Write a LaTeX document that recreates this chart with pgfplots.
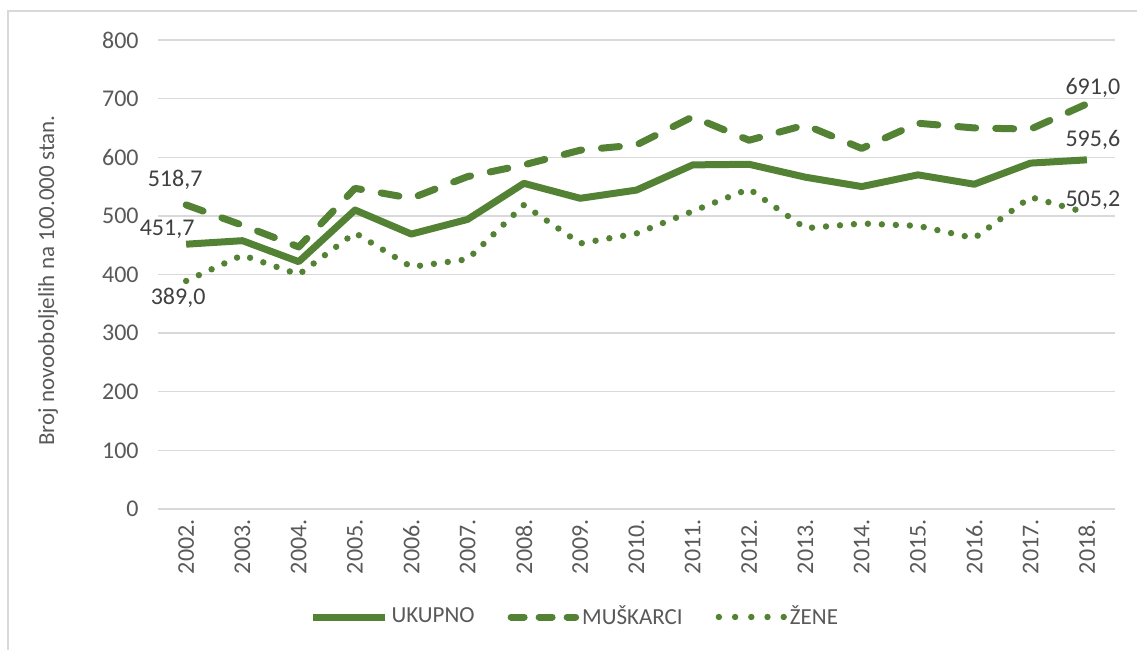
\documentclass[border=0pt]{standalone}
\usepackage{fontspec}
\setmainfont{Carlito}
\usepackage{pgfplots}
\pgfplotsset{compat=1.18}
\definecolor{lg}{HTML}{548235}
\definecolor{tg}{HTML}{595959}
\definecolor{gg}{HTML}{D9D9D9}
\definecolor{dl}{HTML}{404040}
\newcommand{\fs}{\fontsize{11.5}{13}\selectfont}
\newcommand{\ft}{\fontsize{12}{14}\selectfont}
\begin{document}
\begin{tikzpicture}
\useasboundingbox (0pt,0pt) rectangle (568.5pt,325pt);
\draw[gg, line width=0.7pt] (4pt,0pt) -- (4pt,319.5pt) -- (568.5pt,319.5pt);
\begin{axis}[
  at={(79pt,70.5pt)}, anchor=south west,
  scale only axis, width=478.5pt, height=234.5pt,
  xmin=-0.5, xmax=16.5, ymin=0, ymax=800,
  clip=false,
  xtick={0,...,16},
  xticklabels={2002.,2003.,2004.,2005.,2006.,2007.,2008.,2009.,2010.,2011.,2012.,2013.,2014.,2015.,2016.,2017.,2018.},
  ytick={0,100,...,800},
  ymajorgrids, grid style={gg, line width=0.65pt},
  axis line style={draw=none},
  major tick length=0pt,
  /pgf/number format/assume math mode=true,
  tick label style={font=\ft, text=tg},
  xticklabel style={rotate=90, anchor=east, inner sep=0pt, xshift=-5pt},
  yticklabel style={anchor=east, inner sep=0pt, xshift=-9.5pt},
  ylabel={Broj novooboljelih na 100.000 stan.},
  ylabel style={font=\fs, text=tg, at={(rel axis cs:0,0.5)}, anchor=center, yshift=55pt, xshift=-3pt},
  legend style={at={(rel axis cs:0.436,0)}, anchor=center, yshift=-54pt, draw=none, font=\fs, text=tg, legend columns=3,
    /tikz/every even column/.append style={column sep=15pt}, nodes={inner sep=1.5pt}},
  legend cell align=left,
  legend image code/.code={\draw[#1] (0pt,0pt) -- (36pt,0pt);},
]
\addplot[lg, line width=3.5pt, line join=round] coordinates {
(0,451.7)(1,457.7)(2,421.9)(3,510)(4,469)(5,494)(6,555.5)(7,530)(8,544)(9,587)(10,588)(11,566)(12,550)(13,570)(14,554)(15,590)(16,595.6)};
\addlegendentry{UKUPNO}
\addplot[lg, line width=3.5pt, line cap=round, line join=round, dash pattern=on 9pt off 10pt,
  legend image code/.code={\draw[lg, line width=3.5pt, line cap=round, dash pattern=on 6.5pt off 7.5pt] (1.75pt,0pt) -- (34pt,0pt);}] coordinates {
(0,518.7)(1,484)(2,447)(3,547)(4,530)(5,567)(6,587)(7,612)(8,621)(9,669)(10,629)(11,655)(12,615)(13,658)(14,650)(15,648)(16,691.0)};
\addlegendentry{MUŠKARCI}
\addplot[lg, line width=3.2pt, line cap=round, line join=round, dash pattern=on 0pt off 7pt,
  legend image code/.code={\draw[lg, line width=3.2pt, line cap=round, dash pattern=on 0pt off 8.1pt] (1.6pt,0pt) -- (34pt,0pt);}] coordinates {
(0,389.0)(1,433)(2,400)(3,471)(4,413)(5,426)(6,518.6)(7,453)(8,470)(9,508)(10,546)(11,479)(12,487)(13,483)(14,462)(15,532)(16,505.2)};
\addlegendentry{ŽENE}
\node[text=dl, font=\ft] at (axis cs:0,518.7) [xshift=-5.5pt, yshift=12.5pt] {518,7};
\node[text=dl, font=\ft] at (axis cs:0,451.7) [xshift=-9.5pt, yshift=7.5pt] {451,7};
\node[text=dl, font=\ft] at (axis cs:0,389.0) [xshift=-4pt, yshift=-8.5pt] {389,0};
\node[text=dl, font=\ft] at (axis cs:16,691.0) [xshift=3pt, yshift=8pt] {691,0};
\node[text=dl, font=\ft] at (axis cs:16,595.6) [xshift=3pt, yshift=10pt] {595,6};
\node[text=dl, font=\ft] at (axis cs:16,505.2) [xshift=3pt, yshift=6.5pt] {505,2};
\end{axis}
\end{tikzpicture}
\end{document}
